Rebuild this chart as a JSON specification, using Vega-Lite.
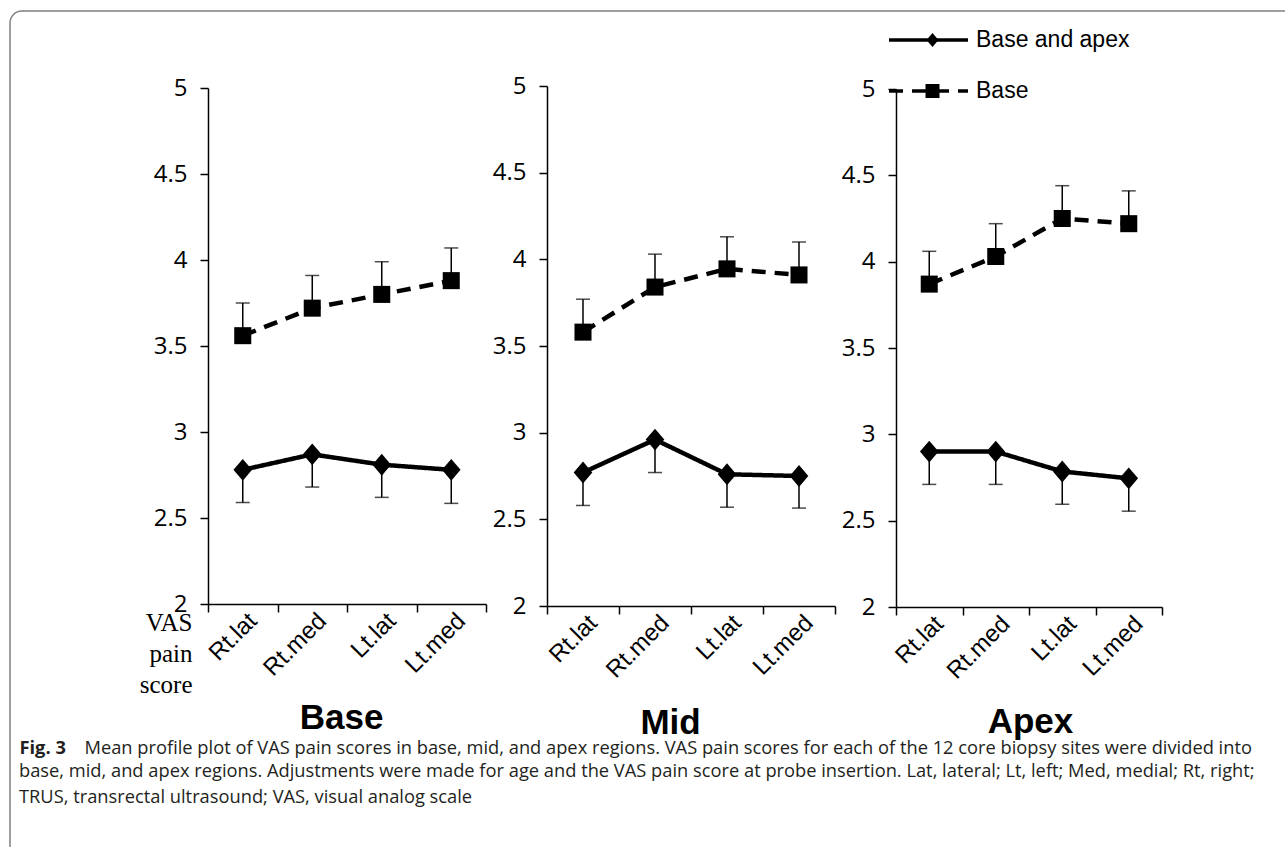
{
  "$schema": "https://vega.github.io/schema/vega-lite/v6.json",
  "width": 1290,
  "height": 850,
  "autosize": {"type": "none"},
  "padding": {"left": 10, "top": 11, "right": -15, "bottom": -14},
  "background": "white",
  "title": {
    "text": ["base, mid, and apex regions. Adjustments were made for age and the VAS pain score at probe insertion. Lat, lateral; Lt, left; Med, medial; Rt, right;", "TRUS, transrectal ultrasound; VAS, visual analog scale"],
    "orient": "top",
    "anchor": "start",
    "frame": "group",
    "offset": -810,
    "dx": 9,
    "baseline": "alphabetic",
    "font": "Open Sans",
    "fontSize": 18.3,
    "fontWeight": "normal",
    "color": "#231f20",
    "lineHeight": 26,
    "limit": 2000
  },
  "data": {
    "values": [
      {"region": "Base", "site": "Rt.lat", "series": "Base", "mean": 3.56, "bar": 3.75},
      {"region": "Base", "site": "Rt.med", "series": "Base", "mean": 3.72, "bar": 3.91},
      {"region": "Base", "site": "Lt.lat", "series": "Base", "mean": 3.80, "bar": 3.99},
      {"region": "Base", "site": "Lt.med", "series": "Base", "mean": 3.88, "bar": 4.07},
      {"region": "Base", "site": "Rt.lat", "series": "Base and apex", "mean": 2.78, "bar": 2.59},
      {"region": "Base", "site": "Rt.med", "series": "Base and apex", "mean": 2.87, "bar": 2.68},
      {"region": "Base", "site": "Lt.lat", "series": "Base and apex", "mean": 2.81, "bar": 2.62},
      {"region": "Base", "site": "Lt.med", "series": "Base and apex", "mean": 2.78, "bar": 2.585},
      {"region": "Mid", "site": "Rt.lat", "series": "Base", "mean": 3.58, "bar": 3.77},
      {"region": "Mid", "site": "Rt.med", "series": "Base", "mean": 3.84, "bar": 4.03},
      {"region": "Mid", "site": "Lt.lat", "series": "Base", "mean": 3.945, "bar": 4.13},
      {"region": "Mid", "site": "Lt.med", "series": "Base", "mean": 3.91, "bar": 4.10},
      {"region": "Mid", "site": "Rt.lat", "series": "Base and apex", "mean": 2.77, "bar": 2.58},
      {"region": "Mid", "site": "Rt.med", "series": "Base and apex", "mean": 2.96, "bar": 2.77},
      {"region": "Mid", "site": "Lt.lat", "series": "Base and apex", "mean": 2.76, "bar": 2.57},
      {"region": "Mid", "site": "Lt.med", "series": "Base and apex", "mean": 2.75, "bar": 2.565},
      {"region": "Apex", "site": "Rt.lat", "series": "Base", "mean": 3.87, "bar": 4.06},
      {"region": "Apex", "site": "Rt.med", "series": "Base", "mean": 4.03, "bar": 4.22},
      {"region": "Apex", "site": "Lt.lat", "series": "Base", "mean": 4.25, "bar": 4.44},
      {"region": "Apex", "site": "Lt.med", "series": "Base", "mean": 4.22, "bar": 4.41},
      {"region": "Apex", "site": "Rt.lat", "series": "Base and apex", "mean": 2.90, "bar": 2.71},
      {"region": "Apex", "site": "Rt.med", "series": "Base and apex", "mean": 2.90, "bar": 2.71},
      {"region": "Apex", "site": "Lt.lat", "series": "Base and apex", "mean": 2.785, "bar": 2.595},
      {"region": "Apex", "site": "Lt.med", "series": "Base and apex", "mean": 2.745, "bar": 2.555}
    ]
  },
  "config": {
    "view": {"stroke": "#808080", "strokeWidth": 1.5, "cornerRadius": 12, "fill": "white"},
    "axis": {
      "grid": false,
      "domainColor": "black",
      "domainWidth": 1.5,
      "tickColor": "black",
      "tickWidth": 1.5,
      "tickSize": 8,
      "labelColor": "black",
      "titleColor": "black",
      "titleLimit": 2000
    }
  },
  "layer": [
    {
      "transform": [{"filter": "datum.region === 'Base'"}],
      "encoding": {
        "x": {
          "field": "site", "type": "nominal",
          "sort": ["Rt.lat", "Rt.med", "Lt.lat", "Lt.med"],
          "scale": {"type": "band", "range": [198, 476], "paddingInner": 0, "paddingOuter": 0},
          "axis": {
            "orient": "bottom", "offset": -257, "tickBand": "extent",
            "labelAngle": -45, "labelAlign": "right", "labelBaseline": "middle",
            "labelFont": "Liberation Sans", "labelFontSize": 24, "labelPadding": 5, "labelOffset": 10,
            "title": "Base", "titleFont": "Liberation Sans", "titleFontSize": 35, "titleFontWeight": "bold",
            "titleX": 331, "titleY": 124, "titleAlign": "center", "titleBaseline": "alphabetic", "titleAngle": 0
          }
        },
        "y": {
          "field": "mean", "type": "quantitative",
          "scale": {"domain": [2, 5], "range": [593, 77]},
          "axis": {
            "orient": "left", "offset": -198,
            "values": [2, 2.5, 3, 3.5, 4, 4.5, 5], "format": "~g",
            "labelFont": "Open Sans", "labelFontSize": 24, "labelPadding": 13,
            "title": ["VAS", "pain", "score"], "titleFont": "Liberation Serif", "titleFontSize": 25, "titleFontWeight": "normal",
            "titleAngle": 0, "titleAlign": "right", "titleBaseline": "alphabetic",
            "titleX": -16, "titleY": 619, "titleLineHeight": 31
          }
        }
      },
      "layer": [
        {"mark": {"type": "rule", "color": "black", "strokeWidth": 1.5}, "encoding": {"y2": {"field": "bar"}}},
        {"mark": {"type": "tick", "color": "black", "thickness": 1.5, "size": 14}, "encoding": {"y": {"field": "bar", "type": "quantitative"}}},
        {
          "mark": {"type": "line", "color": "black", "strokeWidth": 4.5},
          "encoding": {
            "strokeDash": {
              "field": "series", "type": "nominal", "sort": "descending",
              "scale": {"range": [[1, 0], [14, 9]]},
              "legend": {
                "title": null, "orient": "none", "legendX": 877, "legendY": 14,
                "symbolType": "stroke", "symbolSize": 6241, "symbolStrokeWidth": 3.5, "symbolStrokeColor": "black",
                "clipHeight": 30, "rowPadding": 21,
                "labelFont": "Liberation Sans", "labelFontSize": 23, "labelColor": "black", "labelOffset": 6, "labelLimit": 400
              }
            }
          }
        },
        {
          "mark": {"type": "point", "filled": true, "color": "black", "opacity": 1},
          "encoding": {
            "shape": {
              "field": "series", "type": "nominal",
              "scale": {"domain": ["Base and apex", "Base"], "range": ["M-0.85,0L0,-1L0.85,0L0,1Z", "square"]},
              "legend": {
                "title": null, "orient": "none", "legendX": 911, "legendY": 14,
                "clipHeight": 30, "rowPadding": 21, "symbolSize": 196, "symbolFillColor": "black", "symbolStrokeColor": "black", "symbolStrokeWidth": 0,
                "labelExpr": "''", "labelFontSize": 23,
                "encode": {"symbols": {"update": {"size": {"signal": "datum.value === 'Base' ? 196 : 110"}}}}
              }
            },
            "size": {
              "field": "series", "type": "nominal",
              "scale": {"domain": ["Base", "Base and apex"], "range": [290, 480]},
              "legend": null
            }
          }
        }
      ]
    },
    {
      "transform": [{"filter": "datum.region === 'Mid'"}],
      "encoding": {
        "x": {
          "field": "site", "type": "nominal",
          "sort": ["Rt.lat", "Rt.med", "Lt.lat", "Lt.med"],
          "scale": {"type": "band", "range": [537, 825], "paddingInner": 0, "paddingOuter": 0},
          "axis": {
            "orient": "bottom", "offset": -255, "tickBand": "extent",
            "labelAngle": -45, "labelAlign": "right", "labelBaseline": "middle",
            "labelFont": "Liberation Sans", "labelFontSize": 24, "labelPadding": 5, "labelOffset": 10,
            "title": "Mid", "titleFont": "Liberation Sans", "titleFontSize": 35, "titleFontWeight": "bold",
            "titleX": 660, "titleY": 127, "titleAlign": "center", "titleBaseline": "alphabetic", "titleAngle": 0
          }
        },
        "y": {
          "field": "mean", "type": "quantitative",
          "scale": {"domain": [2, 5], "range": [595, 75]},
          "axis": {
            "orient": "left", "offset": -537,
            "values": [2, 2.5, 3, 3.5, 4, 4.5, 5], "format": "~g",
            "labelFont": "Open Sans", "labelFontSize": 24, "labelPadding": 13,
            "title": "Fig. 3", "titleFont": "Open Sans", "titleFontSize": 18.3, "titleFontWeight": "bold", "titleColor": "#231f20",
            "titleAngle": 0, "titleAlign": "left", "titleBaseline": "alphabetic",
            "titleX": -528, "titleY": 742
          }
        }
      },
      "layer": [
        {"mark": {"type": "rule", "color": "black", "strokeWidth": 1.5}, "encoding": {"y2": {"field": "bar"}}},
        {"mark": {"type": "tick", "color": "black", "thickness": 1.5, "size": 14}, "encoding": {"y": {"field": "bar", "type": "quantitative"}}},
        {
          "mark": {"type": "line", "color": "black", "strokeWidth": 4.5},
          "encoding": {"strokeDash": {"field": "series", "type": "nominal", "sort": "descending", "scale": {"range": [[1, 0], [14, 9]]}}}
        },
        {
          "mark": {"type": "point", "filled": true, "color": "black", "opacity": 1},
          "encoding": {
            "shape": {"field": "series", "type": "nominal", "scale": {"domain": ["Base and apex", "Base"], "range": ["M-0.85,0L0,-1L0.85,0L0,1Z", "square"]}},
            "size": {"field": "series", "type": "nominal", "scale": {"domain": ["Base", "Base and apex"], "range": [290, 480]}, "legend": null}
          }
        }
      ]
    },
    {
      "transform": [{"filter": "datum.region === 'Apex'"}],
      "encoding": {
        "x": {
          "field": "site", "type": "nominal",
          "sort": ["Rt.lat", "Rt.med", "Lt.lat", "Lt.med"],
          "scale": {"type": "band", "range": [886, 1152], "paddingInner": 0, "paddingOuter": 0},
          "axis": {
            "orient": "bottom", "offset": -254, "tickBand": "extent",
            "labelAngle": -45, "labelAlign": "right", "labelBaseline": "middle",
            "labelFont": "Liberation Sans", "labelFontSize": 24, "labelPadding": 5, "labelOffset": 10,
            "title": "Apex", "titleFont": "Liberation Sans", "titleFontSize": 35, "titleFontWeight": "bold",
            "titleX": 1020, "titleY": 125, "titleAlign": "center", "titleBaseline": "alphabetic", "titleAngle": 0
          }
        },
        "y": {
          "field": "mean", "type": "quantitative",
          "scale": {"domain": [2, 5], "range": [596, 78]},
          "axis": {
            "orient": "left", "offset": -886,
            "values": [2, 2.5, 3, 3.5, 4, 4.5, 5], "format": "~g",
            "labelFont": "Open Sans", "labelFontSize": 24, "labelPadding": 13,
            "title": "Mean profile plot of VAS pain scores in base, mid, and apex regions. VAS pain scores for each of the 12 core biopsy sites were divided into",
            "titleFont": "Open Sans", "titleFontSize": 18.3, "titleFontWeight": "normal", "titleColor": "#231f20",
            "titleAngle": 0, "titleAlign": "left", "titleBaseline": "alphabetic",
            "titleX": -812, "titleY": 742
          }
        }
      },
      "layer": [
        {"mark": {"type": "rule", "color": "black", "strokeWidth": 1.5}, "encoding": {"y2": {"field": "bar"}}},
        {"mark": {"type": "tick", "color": "black", "thickness": 1.5, "size": 14}, "encoding": {"y": {"field": "bar", "type": "quantitative"}}},
        {
          "mark": {"type": "line", "color": "black", "strokeWidth": 4.5},
          "encoding": {"strokeDash": {"field": "series", "type": "nominal", "sort": "descending", "scale": {"range": [[1, 0], [14, 9]]}}}
        },
        {
          "mark": {"type": "point", "filled": true, "color": "black", "opacity": 1},
          "encoding": {
            "shape": {"field": "series", "type": "nominal", "scale": {"domain": ["Base and apex", "Base"], "range": ["M-0.85,0L0,-1L0.85,0L0,1Z", "square"]}},
            "size": {"field": "series", "type": "nominal", "scale": {"domain": ["Base", "Base and apex"], "range": [290, 480]}, "legend": null}
          }
        }
      ]
    }
  ],
  "resolve": {
    "scale": {"x": "independent", "y": "independent"},
    "axis": {"x": "independent", "y": "independent"}
  }
}
